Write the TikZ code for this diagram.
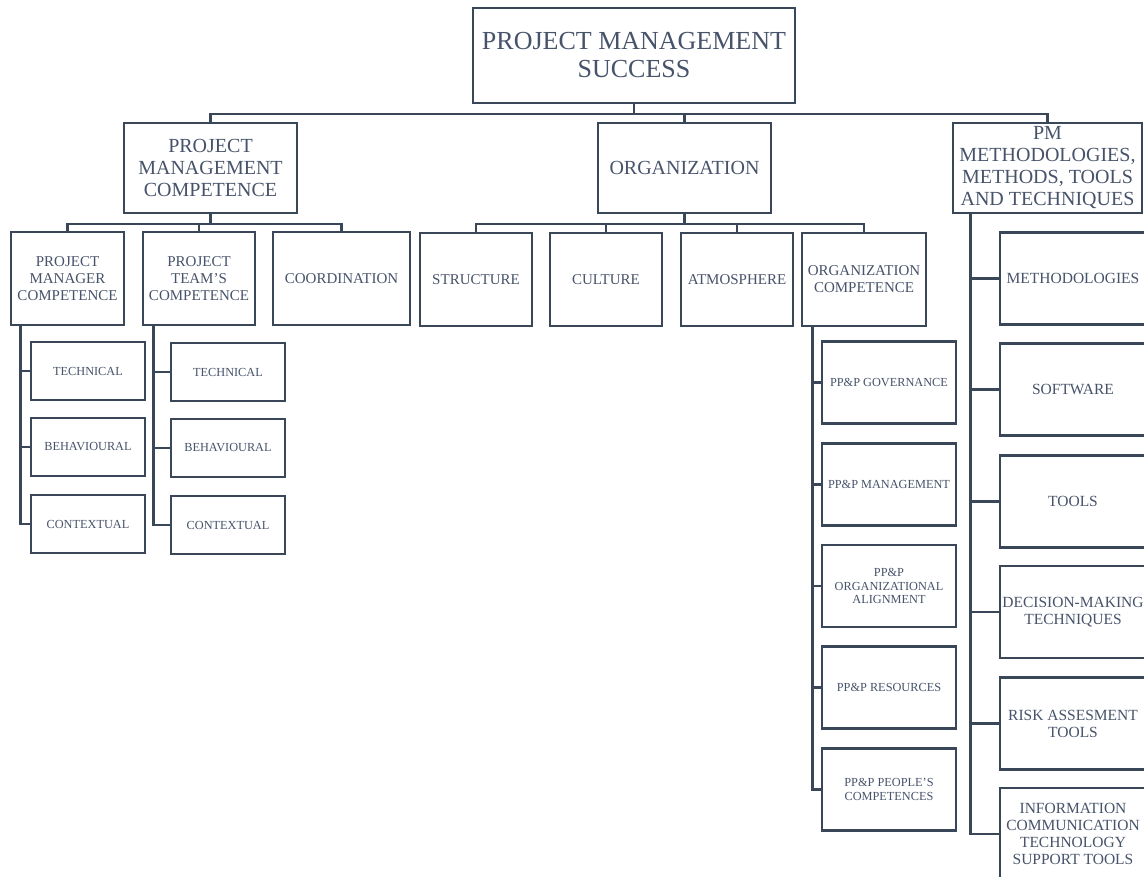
\documentclass[tikz,border=0pt]{standalone}
\usepackage{fontspec}
\setmainfont{Liberation Serif}
\definecolor{linec}{HTML}{3A4759}
\definecolor{textc}{HTML}{47536A}
\tikzset{
  box/.style={draw=linec, line width=2.6pt, fill=white, inner sep=0pt, align=center, text=textc},
  conn/.style={draw=linec, line width=2.6pt},
  fA/.style={font=\fontsize{26}{28}\selectfont},
  fB/.style={font=\fontsize{20}{22}\selectfont},
  fC/.style={font=\fontsize{15}{17}\selectfont},
  fD/.style={font=\fontsize{12.3}{13.5}\selectfont},
  fE/.style={font=\fontsize{15.5}{17}\selectfont},
}
\begin{document}
\begin{tikzpicture}[x=1pt,y=-1pt]
\useasboundingbox (0,0) rectangle (1144,877);
\clip (0,0) rectangle (1144,877);
\fill[white] (0,0) rectangle (1144,877);
\coordinate (busA) at (0,114);
\coordinate (busB) at (0,224);
% level 0
\node[box,fA,minimum width=322pt,minimum height=95pt] (root) at (634,55.5) {PROJECT MANAGEMENT\\SUCCESS};
% level 1
\node[box,fB,minimum width=173pt,minimum height=90pt] (pmc) at (210.5,168) {PROJECT\\MANAGEMENT\\COMPETENCE};
\node[box,fB,minimum width=173pt,minimum height=90pt] (org) at (684.5,168) {ORGANIZATION};
\node[box,fB,minimum width=189pt,minimum height=90pt] (pmm) at (1047.5,168) {PM\\METHODOLOGIES,\\METHODS, TOOLS\\AND TECHNIQUES};
% level 2 under PMC
\node[box,fC,minimum width=113pt,minimum height=93pt] (pmcomp) at (67.5,278.5) {PROJECT\\MANAGER\\COMPETENCE};
\node[box,fC,minimum width=112pt,minimum height=93pt] (team) at (199,278.5) {PROJECT\\TEAM'S\\COMPETENCE};
\node[box,fC,minimum width=137pt,minimum height=93pt] (coord) at (341.5,278.5) {COORDINATION};
% level 2 under organization
\node[box,fC,minimum width=112pt,minimum height=93pt] (struct) at (476,279.5) {STRUCTURE};
\node[box,fC,minimum width=112pt,minimum height=93pt] (cult) at (606,279.5) {CULTURE};
\node[box,fC,minimum width=112pt,minimum height=93pt] (atmo) at (737,279.5) {ATMOSPHERE};
\node[box,fC,minimum width=124pt,minimum height=93pt] (orgcomp) at (864,279.5) {ORGANIZATION\\COMPETENCE};
% level 3 PM competence
\node[box,fD,minimum width=114pt,minimum height=58pt] (tecA) at (88,371) {TECHNICAL};
\node[box,fD,minimum width=114pt,minimum height=58pt] (behA) at (88,447) {BEHAVIOURAL};
\node[box,fD,minimum width=114pt,minimum height=58pt] (conA) at (88,524) {CONTEXTUAL};
% level 3 team
\node[box,fD,minimum width=114pt,minimum height=58pt] (tecB) at (228,372) {TECHNICAL};
\node[box,fD,minimum width=114pt,minimum height=58pt] (behB) at (228,448) {BEHAVIOURAL};
\node[box,fD,minimum width=114pt,minimum height=58pt] (conB) at (228,525) {CONTEXTUAL};
% level 3 org competence
\node[box,fD,minimum width=134pt,minimum height=82pt] (gov) at (889,382.5) {PP\&P GOVERNANCE};
\node[box,fD,minimum width=134pt,minimum height=82pt] (mgmt) at (889,484.5) {PP\&P MANAGEMENT};
\node[box,fD,minimum width=134pt,minimum height=82pt] (align) at (889,586) {PP\&P\\ORGANIZATIONAL\\ALIGNMENT};
\node[box,fD,minimum width=134pt,minimum height=82pt] (res) at (889,687.5) {PP\&P RESOURCES};
\node[box,fD,minimum width=134pt,minimum height=82pt] (peop) at (889,789.5) {PP\&P PEOPLE'S\\COMPETENCES};
% level 2 methods
\node[box,fE,minimum width=146pt,minimum height=92pt] (meth) at (1073,278.5) {METHODOLOGIES};
\node[box,fE,minimum width=146pt,minimum height=92pt] (soft) at (1073,389.5) {SOFTWARE};
\node[box,fE,minimum width=146pt,minimum height=92pt] (tools) at (1073,501.5) {TOOLS};
\node[box,fE,minimum width=146pt,minimum height=92pt] (dec) at (1073,612) {DECISION-MAKING\\TECHNIQUES};
\node[box,fE,minimum width=146pt,minimum height=92pt] (risk) at (1073,723.5) {RISK ASSESMENT\\TOOLS};
\node[box,fE,minimum width=146pt,minimum height=92pt] (ict) at (1073,834) {INFORMATION\\COMMUNICATION\\TECHNOLOGY\\SUPPORT TOOLS};
% spines
\coordinate (spA) at ([xshift=11pt]pmcomp.south west);
\coordinate (spB) at ([xshift=12pt]team.south west);
\coordinate (spC) at ([xshift=12pt]orgcomp.south west);
\coordinate (spD) at ([xshift=19pt]pmm.south west);
% connectors level 0-1
\draw[conn] (root.south) -- (root.south |- busA);
\draw[conn] (pmc.north) |- (pmm.north |- busA) -- (pmm.north);
\draw[conn] (org.north) -- (org.north |- busA);
% connectors PMC
\draw[conn] (pmc.south) -- (pmc.south |- busB);
\draw[conn] (pmcomp.north) |- (coord.north |- busB) -- (coord.north);
\draw[conn] (team.north) -- (team.north |- busB);
% connectors organization
\draw[conn] (org.south) -- (org.south |- busB);
\draw[conn] (struct.north) |- (orgcomp.north |- busB) -- (orgcomp.north);
\draw[conn] (cult.north) -- (cult.north |- busB);
\draw[conn] (atmo.north) -- (atmo.north |- busB);
% spine branches
\foreach \c in {tecA,behA,conA} \draw[conn] (spA) |- (\c.west);
\foreach \c in {tecB,behB,conB} \draw[conn] (spB) |- (\c.west);
\foreach \c in {gov,mgmt,align,res,peop} \draw[conn] (spC) |- (\c.west);
\foreach \c in {meth,soft,tools,dec,risk,ict} \draw[conn] (spD) |- (\c.west);
\end{tikzpicture}
\end{document}
